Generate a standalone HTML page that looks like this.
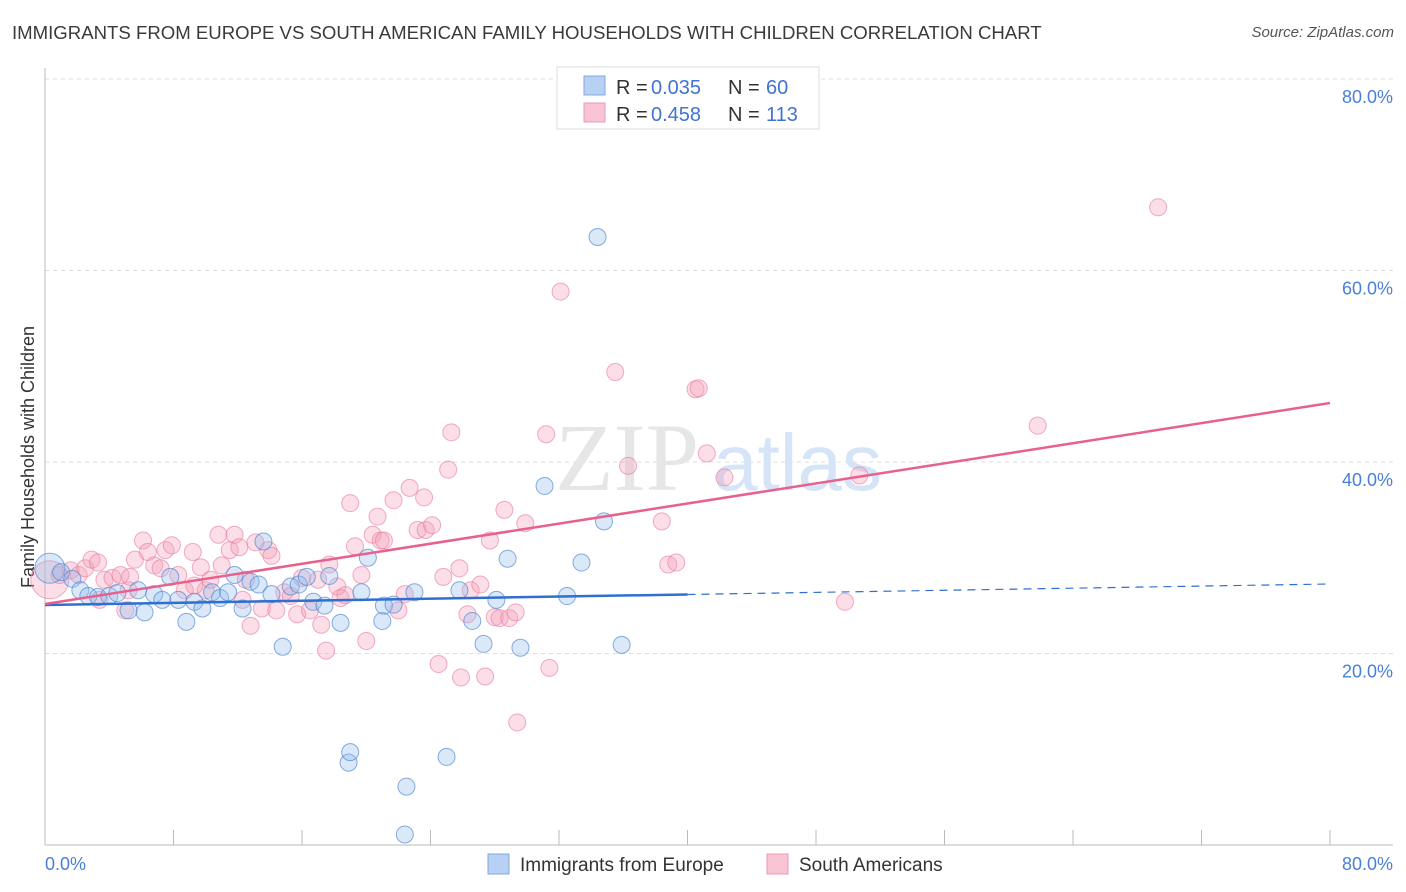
<!DOCTYPE html>
<html><head><meta charset="utf-8">
<style>
body{margin:0;background:#fff;font-family:"Liberation Sans",sans-serif;}
#wrap{position:relative;width:1406px;height:892px;overflow:hidden;}
.t{position:absolute;white-space:nowrap;}
</style></head>
<body>
<div id="wrap">
<div class="t" style="left:12px;top:22px;font-size:18.6px;color:#3a3a3a;">IMMIGRANTS FROM EUROPE VS SOUTH AMERICAN FAMILY HOUSEHOLDS WITH CHILDREN CORRELATION CHART</div>
<div class="t" style="right:12px;top:24px;font-size:15px;color:#555;font-style:italic;">Source: ZipAtlas.com</div>
<svg id="svg" width="1406" height="892" style="position:absolute;left:0;top:0;"></svg>
</div>
<script>
const yTicks=[20,40,60,80];
const xTickLabels=["0.0%","80.0%"];
const blueX=[0.3,1.0,1.7,2.2,2.7,3.3,4.0,4.5,5.2,5.8,6.2,6.8,7.3,7.8,8.3,8.8,9.3,9.8,10.4,10.9,11.4,11.8,12.3,12.8,13.3,13.6,14.1,14.8,15.3,15.8,16.3,16.7,17.4,17.7,18.4,18.9,19.0,19.7,20.1,21.0,21.1,21.7,22.5,22.4,23.0,25.0,25.8,26.6,27.3,28.1,28.8,29.6,31.1,32.5,33.4,34.4,34.8,35.9];
const blueY=[28.9,28.5,27.8,26.6,26.0,25.9,26.0,26.3,24.5,26.6,24.3,26.2,25.6,28.0,25.6,23.3,25.4,24.7,26.4,25.8,26.4,28.2,24.7,27.5,27.2,31.7,26.2,20.7,27.0,27.2,28.0,25.4,25.0,28.1,23.2,8.6,9.7,26.4,30.0,23.4,25.0,25.1,6.1,1.1,26.4,9.2,26.6,23.4,21.0,25.6,29.9,20.6,37.5,26.0,29.5,63.5,33.8,20.9];
const pinkX=[0.3,0.9,1.6,2.1,2.5,2.9,3.3,3.7,4.2,4.7,5.0,5.2,5.6,6.1,6.4,6.8,7.2,7.5,7.9,8.3,8.7,9.2,9.7,10.0,10.3,10.8,11.0,11.5,11.8,12.1,12.5,12.8,13.1,13.5,13.9,14.1,14.4,14.9,15.3,15.7,16.0,16.5,17.0,17.2,17.5,17.7,18.2,18.4,18.7,19.0,19.3,19.7,20.0,20.4,20.7,20.9,21.1,21.7,22.0,22.4,22.7,23.2,23.6,23.7,24.1,24.5,24.8,25.1,25.3,25.8,25.9,26.3,26.5,27.1,27.4,27.7,28.0,28.3,28.6,28.9,29.3,29.4,29.9,31.2,31.4,32.1,35.5,36.3,38.4,38.8,39.3,40.5,40.7,41.2,42.3,49.8,50.7,61.8,69.3,12.3,9.3,3.4,5.3];
const pinkY=[27.7,28.2,28.7,28.2,28.9,29.8,29.5,27.7,27.9,28.2,24.5,26.6,29.8,31.8,30.6,29.2,28.9,30.8,31.3,28.2,26.6,30.6,29.0,26.6,27.7,32.4,29.2,30.8,32.4,31.1,27.7,22.9,31.6,24.7,30.8,30.2,24.5,26.4,26.0,24.1,27.9,24.5,27.7,23.0,20.3,29.3,27.0,25.8,26.1,35.7,31.2,28.2,21.3,32.4,34.3,31.8,31.8,36.0,24.5,26.2,37.3,32.9,36.3,32.9,33.4,18.9,28.0,39.2,43.1,28.9,17.5,24.1,26.6,27.2,17.6,31.8,23.8,23.7,35.0,23.7,24.3,12.8,33.6,42.9,18.5,57.8,49.4,39.6,33.8,29.3,29.5,47.6,47.7,40.9,38.4,25.4,38.6,43.8,66.6,25.6,27.1,25.6,28.0];
const blueTrend=[25.07,27.26];
const pinkTrend=[25.17,46.16];

const X=v=>45+v/80*1285, Y=v=>845-v/20*191.5;
const svg=document.getElementById('svg');
const NS='http://www.w3.org/2000/svg';
function mk(tag,attrs,parent){const e=document.createElementNS(NS,tag);for(const k in attrs)e.setAttribute(k,attrs[k]);(parent||svg).appendChild(e);return e;}

yTicks.forEach(t=>{
 const g=mk('line',{x1:45,x2:1393,y1:Y(t),y2:Y(t),stroke:'#ddd','stroke-dasharray':'4,4'});
 
 
 const tx=mk('text',{x:1393,y:Y(t)+24,'text-anchor':'end','font-size':18,fill:'#4a7fd6','font-family':'Liberation Sans'});
 tx.textContent=t.toFixed(1)+'%';
 
 
});
let ax=mk('line',{x1:45,x2:45,y1:68,y2:845,stroke:'#bbb'});


ax=mk('line',{x1:45,x2:1393,y1:845,y2:845,stroke:'#bbb'});


for(let i=0;i<=10;i++){const tk=mk('line',{x1:X(i*8),x2:X(i*8),y1:830,y2:845,stroke:'#bbb'});
 
 }
let xl=mk('text',{x:45,y:870,'font-size':18,fill:'#4a7fd6','font-family':'Liberation Sans'});xl.textContent=xTickLabels[0];


xl=mk('text',{x:1393,y:870,'text-anchor':'end','font-size':18,fill:'#4a7fd6','font-family':'Liberation Sans'});xl.textContent=xTickLabels[1];


let yt=mk('text',{x:0,y:0,transform:'translate(34,457) rotate(-90)','text-anchor':'middle','font-size':18,fill:'#333','font-family':'Liberation Sans'});
yt.textContent='Family Households with Children';


let wm=mk('text',{x:555,y:490,'font-size':96,fill:'#e6e6e6','font-family':'Liberation Serif'});wm.textContent='ZIP';


wm=mk('text',{x:713,y:490,'font-size':80,fill:'#d6e4f7','font-family':'Liberation Sans'});wm.textContent='atlas';



pinkX.forEach((v,i)=>{const c=mk('circle',{cx:X(v),cy:Y(pinkY[i]),r:i===0?19:8.5,fill:'rgba(244,160,185,0.35)',stroke:'rgba(232,120,155,0.6)','stroke-width':1});
 
 });
blueX.forEach((v,i)=>{const c=mk('circle',{cx:X(v),cy:Y(blueY[i]),r:i===0?15:8.5,fill:'rgba(150,190,235,0.35)',stroke:'rgba(70,130,210,0.65)','stroke-width':1});
 
 });

const by=x=>blueTrend[0]+(blueTrend[1]-blueTrend[0])*x/80;
let tl=mk('line',{x1:X(0),y1:Y(by(0)),x2:X(40),y2:Y(by(40)),stroke:'#2f6fd0','stroke-width':2.5});


tl=mk('line',{x1:X(40),y1:Y(by(40)),x2:X(80),y2:Y(by(80)),stroke:'#2f6fd0','stroke-width':1.2,'stroke-dasharray':'8,6'});


tl=mk('line',{x1:X(0),y1:Y(pinkTrend[0]),x2:X(80),y2:Y(pinkTrend[1]),stroke:'#e8608c','stroke-width':2.5});



const lg=mk('g',{});


mk('rect',{x:557,y:67,width:262,height:62,fill:'#fff',stroke:'#ddd'},lg);
mk('rect',{x:584,y:76,width:21,height:19,fill:'#b8d0f3',stroke:'#7fa8e0'},lg);
mk('rect',{x:584,y:103,width:21,height:19,fill:'#f8c4d4',stroke:'#eb9ab4'},lg);
[['0.035','60',94],['0.458','113',121]].forEach(r=>{
 const a=[['R =',616,'#333'],[r[0],651,'#3f74d4'],['N =',728,'#333'],[r[1],766,'#3f74d4']];
 a.forEach(p=>{
  const t=mk('text',{x:p[1],y:r[2],'font-size':20,fill:p[2],'font-family':'Liberation Sans'},lg);
  t.textContent=p[0];
  
  
 });
});
const bl=mk('g',{});


mk('rect',{x:488,y:854,width:21,height:20,fill:'#b8d0f3',stroke:'#7fa8e0'},bl);
let lt=mk('text',{x:520,y:871,'font-size':19,fill:'#333','font-family':'Liberation Sans'},bl);lt.textContent='Immigrants from Europe';


mk('rect',{x:767,y:854,width:21,height:20,fill:'#f8c4d4',stroke:'#eb9ab4'},bl);
lt=mk('text',{x:799,y:871,'font-size':19,fill:'#333','font-family':'Liberation Sans'},bl);lt.textContent='South Americans';


</script>
</body></html>
